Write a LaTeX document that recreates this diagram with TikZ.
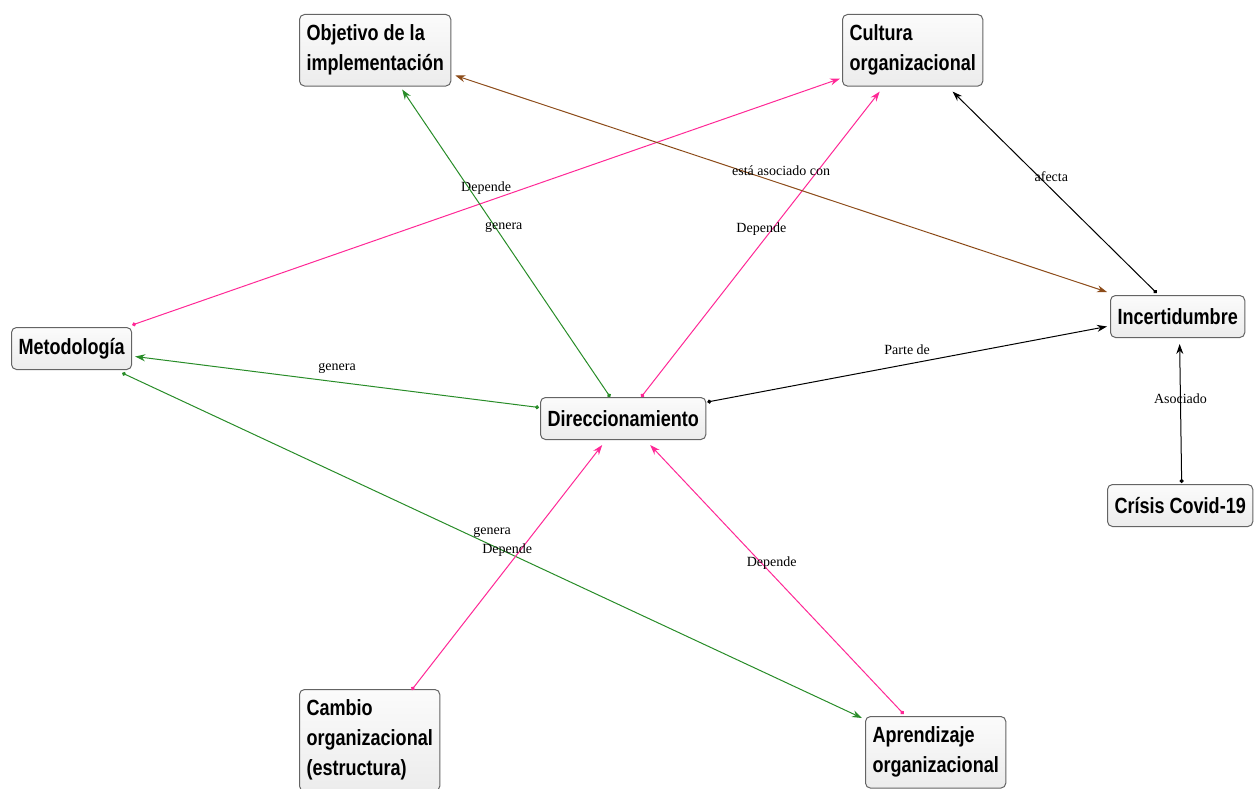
\documentclass[tikz,border=0pt]{standalone}
\usepackage{fontspec}
\setmainfont{Liberation Serif}
\newfontfamily\boxfont[FakeStretch=0.82]{Liberation Sans}
\usetikzlibrary{arrows.meta, calc, positioning}
\definecolor{linkgreen}{RGB}{40,140,40}
\definecolor{linkpink}{RGB}{255,40,150}
\definecolor{linkbrown}{RGB}{140,75,25}
\definecolor{boxline}{RGB}{100,100,100}

\begin{document}
\begin{tikzpicture}[x=1pt, y=-1pt,
  concept/.style={draw=boxline, line width=1pt, rounded corners=5pt,
    top color=gray!3, bottom color=gray!15, anchor=north west, align=left,
    inner xsep=7pt, inner ysep=10.5pt, minimum height=42pt,
    font=\boxfont\bfseries\fontsize{22}{30}\selectfont},
  link/.style={line width=1pt, {Circle[length=4pt]}-{Stealth[length=10pt,width=7pt]}},
  lbl/.style={text=black, font=\fontsize{14}{16}\selectfont, inner sep=1pt}]
  \useasboundingbox (0,0) rectangle (1254,789);

  \node (obj) [concept] at (299,14) {Objetivo de la\\implementación};
  \node (cul) [concept] at (842,14) {Cultura\\organizacional};
  \node (met) [concept] at (11,327) {Metodología};
  \node (dir) [concept] at (540,397) {Direccionamiento};
  \node (inc) [concept] at (1110,295) {Incertidumbre};
  \node (cri) [concept] at (1107,484) {Crísis Covid-19};
  \node (cam) [concept] at (299,689) {Cambio\\organizacional\\(estructura)};
  \node (apr) [concept] at (865,716) {Aprendizaje\\organizacional};

  \draw[link, linkpink] ($(met.north east)+(0,-2)$) -- node[lbl, pos=0.5, yshift=14pt] {Depende} ($(cul.south west)+(-2,-8)$);
  \draw[link, linkgreen] ($(dir.north)+(-13,0)$) -- node[lbl, pos=0.55, xshift=8pt] {genera} ($(obj.south)+(27,3)$);
  \draw[link, linkpink] ($(dir.north)+(18,0)$) -- node[lbl, pos=0.55, xshift=-11pt] {Depende} ($(cul.south)+(-33,5)$);
  \draw[link, linkbrown, {Stealth[length=10pt,width=7pt]}-{Stealth[length=10pt,width=7pt]}] ($(obj.south east)+(4,-11)$) -- node[lbl, pos=0.5, yshift=13pt] {está asociado con} ($(inc.north west)+(-3,-3)$);
  \draw[link, black] ($(inc.north)+(-21,-2)$) -- node[lbl, pos=0.58, xshift=13pt] {afecta} ($(cul.south)+(40,5)$);
  \draw[link, black] ($(dir.north east)+(1,5)$) -- node[lbl, pos=0.5, yshift=15pt] {Parte de} ($(inc.west)+(-3,10)$);
  \draw[link, black] ($(cri.north)+(1.5,-1)$) -- node[lbl, pos=0.61] {Asociado} ($(inc.south)+(2,6)$);
  \draw[link, linkgreen] ($(dir.west)+(-1,-11)$) -- node[lbl, pos=0.5, yshift=14pt] {genera} ($(met.east)+(3,8)$);
  \draw[link, linkgreen] ($(met.south east)+(-10,3)$) -- node[lbl, pos=0.5, yshift=13pt] {genera} ($(apr.north west)+(-3,2)$);
  \draw[link, linkpink] ($(cam.north)+(42,1)$) -- node[lbl, pos=0.57, xshift=-13pt] {Depende} ($(dir.south)+(-21,5)$);
  \draw[link, linkpink] ($(apr.north)+(-32,-2)$) -- node[lbl, pos=0.56, xshift=10pt] {Depende} ($(dir.south)+(27,5)$);
\end{tikzpicture}
\end{document}
